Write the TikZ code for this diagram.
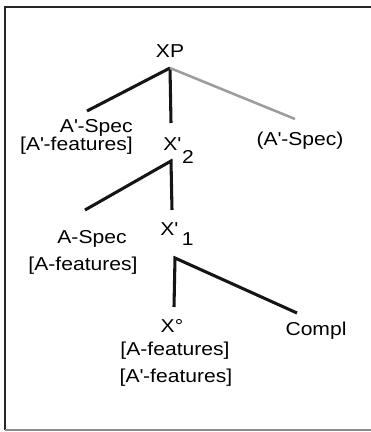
\documentclass[tikz,border=0pt]{standalone}
\usepackage{fontspec}
\setmainfont{Liberation Sans}[FakeStretch=1.13]
\usetikzlibrary{positioning}
\definecolor{cBranch}{HTML}{151515}
\definecolor{cOpt}{HTML}{9C9C9C}
\newcommand{\apos}{\textquotesingle}
\tikzset{
  lbl/.style={inner sep=0pt,anchor=base,font=\fontsize{14}{16}\selectfont},
  br/.style={line width=2.3pt,cBranch},
  opt/.style={line width=1.9pt,cOpt},
  frm/.style={line width=1.8pt,black!85},
}

\begin{document}
\begin{tikzpicture}[x=0.75pt,y=-0.75pt]
  \useasboundingbox (0,0) rectangle (371,432);
  % frame
  \draw[frm] (371,7) -- (5,7) -- (5,430);
  \draw[line width=1pt,black!45] (5,430) -- (371,430);
  % labels
  \node[lbl] (xp) at (170,57) {XP};
  \node[lbl,anchor=base east] (aspec) at (133,132) {A\apos-Spec};
  \node[lbl,anchor=base east] (afeat) at (133,150) {[A\apos-features]};
  \node[lbl,anchor=base west] (xtwo) at (163,150) {X\apos\kern1pt\raisebox{-9.75pt}{2}};
  \node[lbl] (optspec) at (300,145) {(A\apos-Spec)};
  \node[lbl] (aspecl) at (92,243) {A-Spec};
  \node[lbl] (afeatl) at (83,270) {[A-features]};
  \node[lbl,anchor=base west] (xone) at (160,235) {X\apos\kern3pt\raisebox{-7.5pt}{1}};
  \node[lbl] (xzero) at (172,332) {X°};
  \node[lbl] (compl) at (316,335) {Compl};
  \node[lbl] (hda) at (175,355) {[A-features]};
  \node[lbl] (hdb) at (176,382) {[A\apos-features]};
  % branch points
  \coordinate (top) at (170,68);
  \coordinate (topl) at (87,111);
  \coordinate (topm) at (171,123);
  \coordinate (topr) at (295,119);
  \coordinate (mid) at (171,161);
  \coordinate (midl) at (85,210);
  \coordinate (midm) at (172,210);
  \coordinate (low) at (175,258);
  \coordinate (lowm) at (174,307);
  \coordinate (lowr) at (297,313);
  % branches
  \draw[br] (top) -- (topl);
  \draw[br] (top) -- (topm);
  \draw[opt] (top) -- (topr);
  \draw[br] (midl) -- (mid) -- (midm);
  \draw[br] (lowm) -- (low) -- (lowr);
\end{tikzpicture}
\end{document}
